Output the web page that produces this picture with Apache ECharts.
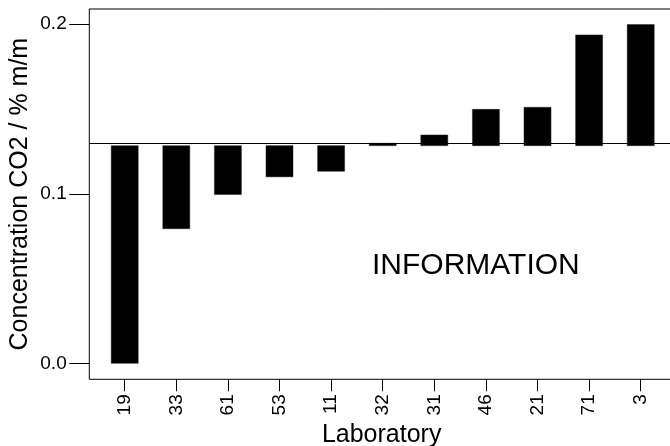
<!DOCTYPE html>
<html>
<head>
<meta charset="utf-8">
<script src="https://cdn.jsdelivr.net/npm/echarts@6/dist/echarts.min.js"></script>
<style>
html,body{margin:0;padding:0;background:#fff;}
#chart{width:670px;height:446px;}
</style>
</head>
<body>
<div id="chart"></div>
<script>
const laboratories = ['19','33','61','53','11','32','31','46','21','71','3'];
const concentrations = [0.000, 0.0794, 0.0996, 0.110, 0.1133, 0.1298, 0.1347, 0.1498, 0.151, 0.1937, 0.1998];
const referenceValue = 0.1284;
const yTicks = [0.0, 0.1, 0.2];
const annotation = 'INFORMATION';

const positions = laboratories.map((_, i) => i);
const barData = concentrations.map((v, i) => [i, v]);
const BAR_WIDTH = 27;

const font = 'Liberation Sans, Arial, sans-serif';
const chart = echarts.init(document.getElementById('chart'), null, {renderer: 'canvas'});
chart.setOption({
  animation: false,
  backgroundColor: '#fff',
  grid: {
    left: 89.3, top: 9, right: -4, bottom: 446 - 379.3,
    outerBoundsMode: 'none', containLabel: false,
    show: true, borderColor: '#000', borderWidth: 1, backgroundColor: '#fff'
  },
  xAxis: {
    type: 'value',
    min: -0.686, max: 10.645,
    splitLine: {show: false},
    axisLine: {show: false, onZero: false},
    axisTick: {show: true, length: 12, lineStyle: {color: '#000', width: 1}, customValues: positions},
    axisLabel: {
      customValues: positions,
      rotate: 90, margin: 15, fontSize: 19, fontFamily: font, color: '#000',
      formatter: v => laboratories[Math.round(v)]
    },
    name: 'Laboratory', nameLocation: 'middle', nameGap: 43, nameMoveOverlap: false,
    nameTextStyle: {fontSize: 25, fontFamily: font, color: '#000', verticalAlign: 'top'}
  },
  yAxis: {
    type: 'value',
    min: -0.0094, max: 0.209,
    splitLine: {show: false},
    axisLine: {show: false, onZero: false},
    axisTick: {show: true, length: 20, lineStyle: {color: '#000', width: 1}, customValues: yTicks},
    axisLabel: {
      customValues: yTicks, margin: 22.6, fontSize: 19, fontFamily: font, color: '#000',
      formatter: v => v.toFixed(1)
    },
    name: 'Concentration CO2 / % m/m', nameLocation: 'middle', nameGap: 57, nameMoveOverlap: false,
    nameTextStyle: {fontSize: 25, fontFamily: font, color: '#000'}
  },
  series: [
    {
      type: 'custom',
      data: barData,
      encode: {x: 0, y: 1},
      renderItem: function (params, api) {
        const x = api.value(0);
        const v = api.value(1);
        const pTop = api.coord([x, Math.max(v, referenceValue)]);
        const pBot = api.coord([x, Math.min(v, referenceValue)]);
        return {
          type: 'rect',
          shape: {x: pTop[0] - BAR_WIDTH / 2, y: pTop[1], width: BAR_WIDTH, height: Math.max(pBot[1] - pTop[1], 1)},
          style: {fill: '#000', stroke: '#222', lineWidth: 0.5}
        };
      },
      markLine: {
        silent: true, symbol: 'none', label: {show: false},
        lineStyle: {color: '#000', width: 1, type: 'solid'},
        data: [{yAxis: referenceValue}]
      }
    }
  ],
  graphic: [{
    type: 'text', left: 372, top: 251,
    style: {text: annotation, fontSize: 30, fontFamily: font, fill: '#000'}
  }]
});
</script>
</body>
</html>
